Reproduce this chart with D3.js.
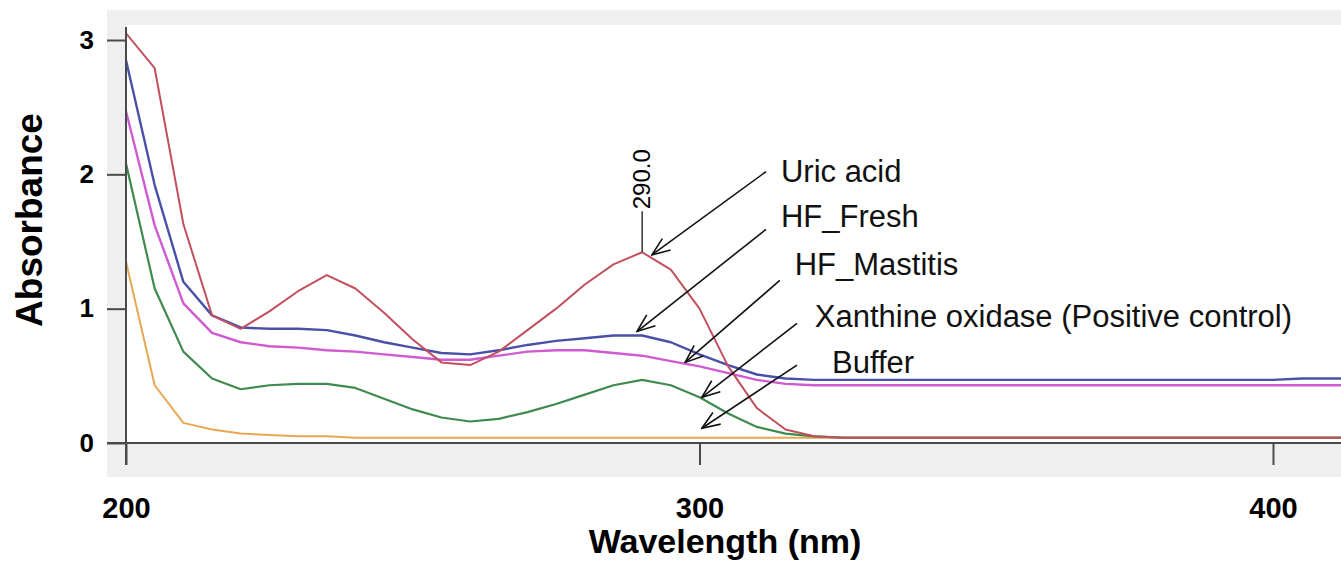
<!DOCTYPE html>
<html>
<head>
<meta charset="utf-8">
<script src="https://cdn.jsdelivr.net/npm/d3@7/dist/d3.min.js"></script>
<style>
  body { margin: 0; background: #fff; }
  svg { display: block; font-family: "Liberation Sans", Arial, sans-serif; }
  .line { fill: none; stroke-linejoin: round; }
</style>
</head>
<body>
<svg id="spectrum" width="1341" height="561"></svg>
<script>
// wavelengths sampled every 5 nm
var wavelengths = d3.range(200, 420, 5);

var uricAcid = [3.05, 2.79, 1.63, 0.95, 0.85, 0.98, 1.13, 1.25, 1.15, 0.97,
  0.77, 0.60, 0.58, 0.68, 0.84, 1.00, 1.18, 1.33, 1.42, 1.29,
  1.00, 0.57, 0.26, 0.10, 0.05, 0.04, 0.04, 0.04, 0.04, 0.04,
  0.04, 0.04, 0.04, 0.04, 0.04, 0.04, 0.04, 0.04, 0.04, 0.04,
  0.04, 0.04, 0.04, 0.04];
var hfFresh = [2.85, 1.92, 1.20, 0.95, 0.86, 0.85, 0.85, 0.84, 0.80, 0.75,
  0.71, 0.67, 0.66, 0.69, 0.73, 0.76, 0.78, 0.80, 0.80, 0.75,
  0.66, 0.58, 0.51, 0.48, 0.47, 0.47, 0.47, 0.47, 0.47, 0.47,
  0.47, 0.47, 0.47, 0.47, 0.47, 0.47, 0.47, 0.47, 0.47, 0.47,
  0.47, 0.48, 0.48, 0.48];
var hfMastitis = [2.47, 1.62, 1.04, 0.82, 0.75, 0.72, 0.71, 0.69, 0.68, 0.66,
  0.64, 0.62, 0.62, 0.65, 0.68, 0.69, 0.69, 0.67, 0.65, 0.61,
  0.57, 0.52, 0.47, 0.44, 0.43, 0.43, 0.43, 0.43, 0.43, 0.43,
  0.43, 0.43, 0.43, 0.43, 0.43, 0.43, 0.43, 0.43, 0.43, 0.43,
  0.43, 0.43, 0.43, 0.43];
var xanthineOxidase = [2.08, 1.15, 0.68, 0.48, 0.40, 0.43, 0.44, 0.44, 0.41, 0.33,
  0.25, 0.19, 0.16, 0.18, 0.23, 0.29, 0.36, 0.43, 0.47, 0.43,
  0.34, 0.22, 0.12, 0.07, 0.05, 0.04, 0.04, 0.04, 0.04, 0.04,
  0.04, 0.04, 0.04, 0.04, 0.04, 0.04, 0.04, 0.04, 0.04, 0.04,
  0.04, 0.04, 0.04, 0.04];
var buffer = [1.35, 0.43, 0.15, 0.10, 0.07, 0.06, 0.05, 0.05, 0.04, 0.04,
  0.04, 0.04, 0.04, 0.04, 0.04, 0.04, 0.04, 0.04, 0.04, 0.04,
  0.04, 0.04, 0.04, 0.04, 0.04, 0.04, 0.04, 0.04, 0.04, 0.04,
  0.04, 0.04, 0.04, 0.04, 0.04, 0.04, 0.04, 0.04, 0.04, 0.04,
  0.04, 0.04, 0.04, 0.04];

var xTicks = [200, 300, 400];
var yTicks = [0, 1, 2, 3];

// annotation labels, drawn top to bottom
var labelNames = ["Uric acid", "HF_Fresh", "HF_Mastitis", "Xanthine oxidase (Positive control)", "Buffer"];
var labelAt = [[314.2, 1.94], [314.2, 1.61], [316.6, 1.25], [320.1, 0.86], [323.1, 0.52]];
var arrowFrom = [[311.6, 2.02], [311.6, 1.59], [314.0, 1.21], [317.0, 0.89], [317.0, 0.58]];
var arrowTo = [[291.7, 1.40], [289.1, 0.83], [297.5, 0.60], [300.4, 0.34], [300.4, 0.11]];

var peakWavelength = 290.0, peakValue = 1.42;

// drawing order: bottom first, uric acid on top
var series = [
  { name: "Buffer", values: buffer, color: "#e8a852", width: 2 },
  { name: "Xanthine oxidase", values: xanthineOxidase, color: "#3f8a4e", width: 2.2 },
  { name: "HF_Mastitis", values: hfMastitis, color: "#d05ad0", width: 2.4 },
  { name: "HF_Fresh", values: hfFresh, color: "#4a50a8", width: 2.4 },
  { name: "Uric acid", values: uricAcid, color: "#c2505e", width: 2 }
];

var svg = d3.select("#spectrum");

var x = d3.scaleLinear().domain([200, 400]).range([126, 1273]);
var y = d3.scaleLinear().domain([0, 3]).range([443, 40]);

// grey frame and white plotting area
svg.append("rect")
  .attr("x", 107).attr("y", 10)
  .attr("width", 1234).attr("height", 467)
  .attr("fill", "#efefef");
svg.append("rect")
  .attr("x", 126).attr("y", 25)
  .attr("width", 1215).attr("height", 418)
  .attr("fill", "#ffffff");

svg.append("clipPath").attr("id", "plotClip")
  .append("rect")
  .attr("x", 126).attr("y", 0)
  .attr("width", 1215).attr("height", 445);

// the curves
var line = d3.line()
  .x(function(d) { return x(d[0]); })
  .y(function(d) { return y(d[1]); });

svg.append("g")
  .attr("clip-path", "url(#plotClip)")
  .selectAll("path")
  .data(series)
  .enter()
  .append("path")
  .attr("class", "line")
  .attr("d", function(s) {
    return line(wavelengths.map(function(w, i) { return [w, s.values[i]]; }));
  })
  .style("stroke", function(s) { return s.color; })
  .style("stroke-width", function(s) { return s.width; });

// axes
var xAxis = svg.append("g")
  .attr("transform", "translate(0," + y(0) + ")")
  .call(d3.axisBottom(x).tickValues(xTicks).tickSize(22).tickFormat(d3.format("d")));
xAxis.select(".domain").remove();
xAxis.selectAll(".tick line").attr("stroke", "#4a4a4a").attr("stroke-width", 2);
xAxis.selectAll(".tick text")
  .attr("y", 75).attr("dy", null)
  .attr("fill", "#000")
  .style("font-size", "29px").style("font-weight", "bold");

var yAxis = svg.append("g")
  .attr("transform", "translate(" + x(200) + ",0)")
  .call(d3.axisLeft(y).tickValues(yTicks).tickSize(19).tickPadding(13).tickFormat(d3.format("d")));
yAxis.select(".domain").remove();
yAxis.selectAll(".tick line").attr("stroke", "#4a4a4a").attr("stroke-width", 2);
yAxis.selectAll(".tick text")
  .attr("fill", "#000")
  .style("font-size", "26px").style("font-weight", "bold");

svg.append("line")
  .attr("x1", 107).attr("x2", 1341)
  .attr("y1", y(0)).attr("y2", y(0))
  .attr("stroke", "#4a4a4a").attr("stroke-width", 2);
svg.append("line")
  .attr("x1", x(200)).attr("x2", x(200))
  .attr("y1", 27).attr("y2", y(0) + 22)
  .attr("stroke", "#4a4a4a").attr("stroke-width", 2);

// axis titles
svg.append("text")
  .attr("x", 725).attr("y", 553)
  .attr("text-anchor", "middle")
  .style("font-size", "34px").style("font-weight", "bold")
  .text("Wavelength (nm)");

svg.append("text")
  .attr("transform", "translate(42,220) rotate(-90)")
  .attr("text-anchor", "middle")
  .style("font-size", "37px").style("font-weight", "bold")
  .text("Absorbance");

// peak marker
svg.append("line")
  .attr("x1", x(peakWavelength)).attr("x2", x(peakWavelength))
  .attr("y1", y(peakValue)).attr("y2", y(peakValue) - 41)
  .attr("stroke", "#333").attr("stroke-width", 1.5);
svg.append("text")
  .attr("transform", "translate(" + (x(peakWavelength) + 8) + "," + (y(peakValue) - 43) + ") rotate(-90)")
  .style("font-size", "24px")
  .text(d3.format(".1f")(peakWavelength));

// arrows and labels
svg.append("defs").append("marker")
  .attr("id", "head")
  .attr("viewBox", "0 0 20 16")
  .attr("refX", 19).attr("refY", 8)
  .attr("markerWidth", 20).attr("markerHeight", 16)
  .attr("markerUnits", "userSpaceOnUse")
  .attr("orient", "auto")
  .append("path")
  .attr("d", "M1,1 L19,8 L1,15")
  .attr("fill", "none")
  .attr("stroke", "#111")
  .attr("stroke-width", 1.6);

svg.append("g")
  .selectAll("line")
  .data(arrowFrom)
  .enter()
  .append("line")
  .attr("x1", function(d) { return x(d[0]); })
  .attr("y1", function(d) { return y(d[1]); })
  .attr("x2", function(d, i) { return x(arrowTo[i][0]); })
  .attr("y2", function(d, i) { return y(arrowTo[i][1]); })
  .attr("stroke", "#111")
  .attr("stroke-width", 1.6)
  .attr("marker-end", "url(#head)");

svg.append("g")
  .selectAll("text")
  .data(labelNames)
  .enter()
  .append("text")
  .attr("x", function(d, i) { return x(labelAt[i][0]); })
  .attr("y", function(d, i) { return y(labelAt[i][1]); })
  .style("font-size", "31px")
  .attr("fill", "#111")
  .text(function(d) { return d; });
</script>
</body>
</html>
